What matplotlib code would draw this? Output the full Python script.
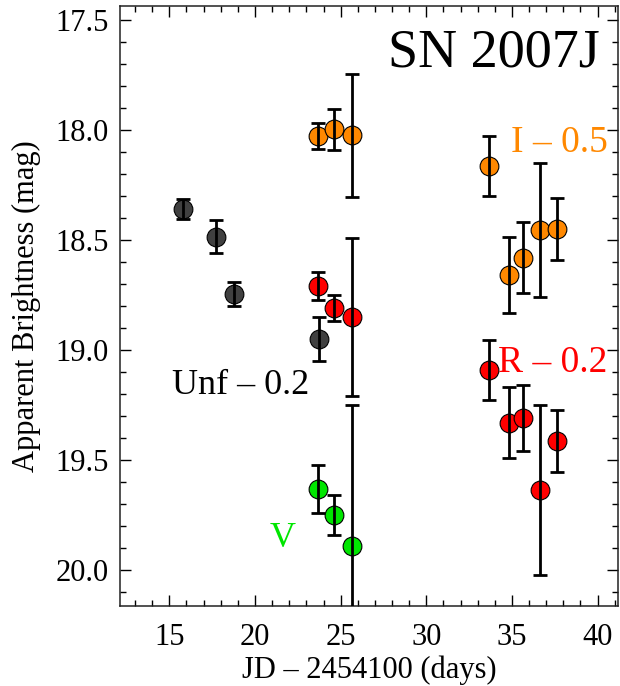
import numpy as np
import matplotlib
matplotlib.use('Agg')
import matplotlib.pyplot as plt
from matplotlib.ticker import MultipleLocator, FormatStrFormatter

plt.rcParams['font.family'] = ['Liberation Serif', 'DejaVu Serif']
plt.rcParams['mathtext.fontset'] = 'stix'

# Light curve data / Кривые блеска
unf_x = [15.78, 17.72, 18.76, 23.73]
unf_y = [18.36, 18.485, 18.745, 18.95]
unf_err = [0.046, 0.075, 0.055, 0.10]

v_x = [23.66, 24.63, 25.64]
v_y = [19.633, 19.75, 19.89]
v_err = [0.11, 0.09, 0.64]

r_x = [23.66, 24.63, 25.64, 33.67, 34.81, 35.62, 36.63, 37.64]
r_y = [18.71, 18.81, 18.85, 19.09, 19.33, 19.31, 19.636, 19.415]
r_err = [0.063, 0.06, 0.36, 0.137, 0.16, 0.15, 0.386, 0.14]

i_x = [23.66, 24.63, 25.64, 33.67, 34.81, 35.62, 36.63, 37.64]
i_y = [18.027, 17.997, 18.023, 18.162, 18.66, 18.58, 18.455, 18.451]
i_err = [0.06, 0.094, 0.28, 0.137, 0.174, 0.162, 0.305, 0.14]

series = [
    (unf_x, unf_y, unf_err, '#404040'),
    (i_x, i_y, i_err, '#ff8800'),
    (r_x, r_y, r_err, '#ff0000'),
    (v_x, v_y, v_err, '#00e600'),
]

fig = plt.figure(figsize=(6.2, 6.86), dpi=100)
ax = fig.add_axes([0.193, 0.1166, 0.804, 0.875])

for x, y, err, col in series:
    ax.plot(x, y, 'o', ms=13.5, mfc=col, mec='black', mew=0.8, zorder=2)
    ax.errorbar(x, y, yerr=err, fmt='none', ecolor='black', elinewidth=2,
                capsize=4.8, capthick=2, zorder=3)

ax.set_xlim(12.1, 41.2)
ax.set_ylim(20.164, 17.435)

ax.xaxis.set_major_locator(MultipleLocator(5))
ax.xaxis.set_minor_locator(MultipleLocator(1))
ax.yaxis.set_major_locator(MultipleLocator(0.5))
ax.yaxis.set_minor_locator(MultipleLocator(0.1))
ax.yaxis.set_major_formatter(FormatStrFormatter('%.1f'))

ax.tick_params(which='both', direction='in', top=True, right=True, width=1)
ax.tick_params(which='major', length=8)
ax.tick_params(which='minor', length=4.3)
ax.tick_params(axis='x', which='major', labelsize=22, pad=12)
ax.tick_params(axis='y', which='major', labelsize=22, pad=8)
for s in ax.spines.values():
    s.set_linewidth(1.1)
    s.set_color('#222222')

ax.set_xlabel('JD – 2454100 (days)', fontsize=22, labelpad=3)
ax.set_ylabel('Apparent Brightness (mag)', fontsize=22, labelpad=10)

ax.text(40.13, 17.71, 'SN 2007J', fontsize=39, ha='right', va='baseline')
ax.text(40.6, 18.10, 'I – 0.5', fontsize=27, color='#ff8800', ha='right', va='baseline')
ax.text(40.6, 19.10, 'R – 0.2', fontsize=27, color='#ff0000', ha='right', va='baseline')
ax.text(15.14, 19.20, 'Unf – 0.2', fontsize=26, color='black', ha='left', va='baseline')
ax.text(21.6, 19.894, 'V', fontsize=26, color='#00e600', ha='center', va='baseline')

fig.savefig('out.png', dpi=100)
